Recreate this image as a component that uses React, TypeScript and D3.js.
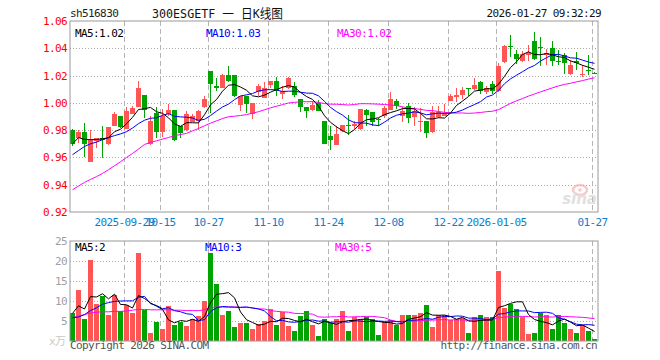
import React from "react"
import * as d3 from "d3"

// trading days shown, 2025-09-16 .. 2026-01-27
const dates = [
  "2025-09-16", "2025-09-17", "2025-09-18", "2025-09-19", "2025-09-22", "2025-09-23", "2025-09-24", "2025-09-25", "2025-09-26", "2025-09-29", "2025-09-30",
  "2025-10-09", "2025-10-10", "2025-10-13", "2025-10-14", "2025-10-15", "2025-10-16", "2025-10-17", "2025-10-20", "2025-10-21", "2025-10-22", "2025-10-23", "2025-10-24", "2025-10-27", "2025-10-28", "2025-10-29", "2025-10-30", "2025-10-31",
  "2025-11-03", "2025-11-04", "2025-11-05", "2025-11-06", "2025-11-07", "2025-11-10", "2025-11-11", "2025-11-12", "2025-11-13", "2025-11-14", "2025-11-17", "2025-11-18", "2025-11-19", "2025-11-20", "2025-11-21", "2025-11-24", "2025-11-25", "2025-11-26", "2025-11-27", "2025-11-28",
  "2025-12-01", "2025-12-02", "2025-12-03", "2025-12-04", "2025-12-05", "2025-12-08", "2025-12-09", "2025-12-10", "2025-12-11", "2025-12-12", "2025-12-15", "2025-12-16", "2025-12-17", "2025-12-18", "2025-12-19", "2025-12-22", "2025-12-23", "2025-12-24", "2025-12-25", "2025-12-26", "2025-12-29", "2025-12-30", "2025-12-31",
  "2026-01-05", "2026-01-06", "2026-01-07", "2026-01-08", "2026-01-09", "2026-01-12", "2026-01-13", "2026-01-14", "2026-01-15", "2026-01-16", "2026-01-19", "2026-01-20", "2026-01-21", "2026-01-22", "2026-01-23", "2026-01-26", "2026-01-27",
]

const opens = [
  0.9802, 0.9741, 0.9788, 0.9568, 0.9722, 0.9744, 0.9698, 0.9827, 0.9905, 0.9807, 0.9917,
  0.9971, 1.0059, 0.9698, 0.9922, 0.9783, 0.9917, 0.9946, 0.9827, 0.9802, 0.9863, 0.9868, 0.9971, 1.0234, 1.0124, 1.0112, 1.0205, 1.0205,
  0.9985, 1.0051, 0.9917, 1.008, 1.0034, 1.0132, 1.0161, 1.0063, 1.0111, 1.0122, 1.0025, 0.9969, 0.9951, 1.0002, 0.9864, 0.976, 0.9693, 0.9795, 0.984, 0.9829,
  0.9805, 0.9944, 0.9934, 0.9885, 0.9905, 0.9949, 1.0015, 0.9905, 0.9978, 0.9893, 0.9863, 0.9868, 0.9788, 0.9893, 0.9905, 1.0015, 1.0046, 1.0059, 1.0107, 1.0105, 1.0154, 1.0083, 1.0137,
  1.0088, 1.0299, 1.0414, 1.0355, 1.0304, 1.0348, 1.0451, 1.0407, 1.035, 1.0402, 1.0304, 1.0348, 1.0213, 1.0304, 1.0206, 1.0238, 1.0221,
]
const highs = [
  0.9805, 0.9802, 0.9851, 0.98, 0.9744, 0.9827, 0.9824, 0.9934, 0.9905, 0.9971, 0.9976,
  1.0161, 1.0059, 0.9902, 0.9966, 0.9954, 0.9995, 0.9946, 0.9827, 0.9941, 0.9917, 0.9949, 1.0051, 1.0234, 1.0185, 1.0215, 1.0271, 1.0205,
  1.0051, 1.0051, 1.0, 1.0141, 1.0156, 1.0161, 1.019, 1.0124, 1.0189, 1.0154, 1.0025, 0.9969, 1.001, 1.002, 0.9864, 0.9834, 0.9834, 0.984, 0.9913, 0.9869,
  0.9957, 0.9957, 0.9934, 0.989, 0.9978, 1.0076, 1.0027, 0.9966, 1.0002, 0.9966, 0.996, 0.9868, 0.9978, 0.9978, 0.999, 1.0063, 1.0112, 1.0117, 1.011, 1.0185, 1.0161, 1.0124, 1.0161,
  1.0295, 1.0426, 1.0495, 1.0385, 1.0377, 1.0426, 1.052, 1.0483, 1.0397, 1.0453, 1.0385, 1.0368, 1.0311, 1.0373, 1.0275, 1.0348, 1.0225,
]
const lows = [
  0.9686, 0.9705, 0.9605, 0.9563, 0.9668, 0.9593, 0.9693, 0.9827, 0.9815, 0.9807, 0.9917,
  0.9971, 0.9888, 0.9693, 0.9746, 0.9751, 0.9905, 0.9722, 0.9746, 0.9795, 0.9863, 0.9802, 0.9961, 0.9929, 1.0088, 1.0112, 1.0156, 1.0046,
  0.9937, 0.9929, 0.988, 1.0051, 1.0034, 1.0112, 1.0051, 1.0027, 1.01, 1.0042, 0.9932, 0.9888, 0.9937, 0.9941, 0.9695, 0.9658, 0.9688, 0.9783, 0.9761, 0.981,
  0.9798, 0.9834, 0.9827, 0.983, 0.9888, 0.9949, 0.9954, 0.9861, 0.9856, 0.9832, 0.979, 0.9739, 0.9776, 0.9888, 0.9905, 1.001, 1.0005, 1.0027, 1.0051, 1.0093, 1.0068, 1.0068, 1.0063,
  1.0076, 1.029, 1.0336, 1.0287, 1.03, 1.0304, 1.0311, 1.027, 1.028, 1.027, 1.0275, 1.0213, 1.0206, 1.0238, 1.0189, 1.0201, 1.0216,
]
const closes = [
  0.9698, 0.9788, 0.9698, 0.9727, 0.9744, 0.9727, 0.9824, 0.992, 0.982, 0.9941, 0.9963,
  1.0112, 0.9949, 0.9868, 0.9783, 0.9905, 0.9946, 0.9727, 0.9778, 0.9917, 0.9902, 0.9941, 1.0027, 1.0141, 1.0112, 1.0205, 1.0161, 1.0051,
  1.0051, 0.9995, 1.0, 1.0124, 1.0112, 1.0161, 1.0088, 1.0088, 1.0185, 1.0054, 0.9969, 0.9937, 0.9981, 0.9941, 0.9702, 0.9725, 0.9774, 0.9837, 0.9835, 0.9847,
  0.9952, 0.9913, 0.9863, 0.988, 0.9961, 1.0027, 0.9978, 0.9941, 0.9888, 0.9941, 0.9868, 0.9778, 0.9934, 0.9934, 0.9929, 1.0051, 1.0056, 1.0095, 1.01, 1.0129, 1.0085, 1.0112, 1.0085,
  1.0271, 1.0417, 1.041, 1.0319, 1.0355, 1.0368, 1.0319, 1.0402, 1.0365, 1.0304, 1.0299, 1.0294, 1.0275, 1.0294, 1.0213, 1.023, 1.0218,
]
// volume, 万
const volumes = [
  7.1, 12.8, 5.6, 20.2, 9.3, 11.2, 6.4, 11.4, 7.4, 8.9, 7.1,
  22.0, 7.7, 1.9, 4.8, 3.1, 8.8, 4.1, 4.8, 3.8, 5.6, 6.3, 10.1, 22.1, 14.3, 6.4, 7.6, 3.6,
  4.4, 4.6, 2.9, 4.2, 5.0, 7.9, 4.1, 7.3, 3.8, 2.6, 6.2, 7.4, 4.1, 1.2, 5.6, 4.4, 5.5, 7.4, 2.6, 5.9,
  5.6, 5.9, 5.6, 1.4, 4.8, 5.2, 4.1, 6.4, 6.6, 6.4, 6.9, 9.1, 3.4, 6.4, 6.6, 5.2, 5.6, 5.8, 1.9, 6.1, 6.4, 5.9, 5.9,
  17.6, 8.3, 9.3, 7.9, 5.9, 1.7, 2.1, 6.9, 6.4, 3.1, 6.4, 4.6, 3.1, 1.9, 4.0, 2.5, 0.4,
]

// moving-average values at the left edge (their windows start before the first day shown)
const ma5Head = [0.97, 0.9745, 0.9732, 0.973]
const ma10Head = [0.962, 0.965, 0.968, 0.97, 0.9712, 0.973, 0.9745, 0.976, 0.9772]
const ma30Head = [
  0.9363, 0.939, 0.9417, 0.9439, 0.9459, 0.9483, 0.951, 0.9539, 0.9568, 0.96, 0.9629, 0.9661, 0.9695, 0.971, 0.9722,
  0.9734, 0.9746, 0.9759, 0.9768, 0.9776, 0.9795, 0.9812, 0.9832, 0.9851, 0.9868, 0.9885, 0.9898, 0.9902, 0.9907,
]
const vma5Head = [6.9, 8.8, 8.0, 11.1]
const vma10Head = [5.8, 6.0, 6.6, 7.6, 8.3, 9.2, 9.6, 9.9, 10.0]
const vma30Head = [
  5.9, 6.2, 6.6, 7.0, 7.2, 7.3, 7.3, 7.4, 7.4, 7.5, 7.7, 7.9, 7.9, 7.8, 7.8,
  7.8, 7.8, 7.7, 7.7, 7.6, 7.6, 7.6, 7.8, 8.4, 8.5, 8.5, 8.5, 8.5, 8.4,
]

const tickDates = ["2025-09-29", "2025-10-15", "2025-10-27", "2025-11-10", "2025-11-24", "2025-12-08", "2025-12-22", "2026-01-05", "2026-01-27"]
const tickLabels = ["2025-09-29", "10-15", "10-27", "11-10", "11-24", "12-08", "12-22", "2026-01-05", "01-27"]
const priceTicks = [0.92, 0.94, 0.96, 0.98, 1.0, 1.02, 1.04, 1.06]
const volumeTicks = [5, 10, 15, 20, 25]

const width = 660
const height = 360
const left = 70
const right = 598
const priceTop = 21
const priceBottom = 212
const volTop = 241
const volBottom = 341

const UP = "#ff5555"
const DOWN = "#00a400"
const MONO = "'DejaVu Sans Mono', 'Liberation Mono', monospace"

const movingAverage = (values: number[], n: number, head: number[]) =>
  values.map((_, i) => (i < n - 1 ? head[i] : (d3.mean(values.slice(i - n + 1, i + 1)) as number)))

export default function App() {
  const x = d3.scaleBand<string>().domain(dates).range([left, right])
  const y = d3.scaleLinear().domain([0.92, 1.06]).range([priceBottom, priceTop])
  const yv = d3.scaleLinear().domain([0, 25]).range([volBottom, volTop])
  const cx = (d: string) => (x(d) as number) + 2.5

  const ma5 = movingAverage(closes, 5, ma5Head)
  const ma10 = movingAverage(closes, 10, ma10Head)
  const ma30 = movingAverage(closes, 30, ma30Head)
  const vma5 = movingAverage(volumes, 5, vma5Head)
  const vma10 = movingAverage(volumes, 10, vma10Head)
  const vma30 = movingAverage(volumes, 30, vma30Head)

  const priceLine = d3.line<number>().x((_, i) => cx(dates[i])).y((v) => y(v))
  const volLine = d3.line<number>().x((_, i) => cx(dates[i])).y((v) => yv(v))
  const last = (a: number[]) => a[a.length - 1]

  const txt = { fontFamily: MONO, fontSize: 11, letterSpacing: -0.6 }

  return (
    <svg width={width} height={height} style={{ position: "absolute", left: 0, top: 0, background: "#fff" }}>
      {/* header */}
      <text x={70} y={17} {...txt} fill="#222">sh516830</text>
      <text x={152} y={18} fontFamily={MONO + ", 'Noto Sans CJK SC'"} fontSize={13} textLength={131} lengthAdjust="spacingAndGlyphs" fill="#111">
        300ESGETF 一 日K线图
      </text>
      <text x={601} y={17} {...txt} textAnchor="end" fill="#111">2026-01-27 09:32:29</text>

      {/* price grid */}
      {priceTicks.slice(1, -1).map((t) => (
        <line key={t} x1={left} x2={right} y1={Math.round(y(t)) + 0.5} y2={Math.round(y(t)) + 0.5} stroke="#aaa" strokeDasharray="1,2" />
      ))}
      {tickDates.map((d) => (
        <line key={d} x1={(x(d) as number) + 0.5} x2={(x(d) as number) + 0.5} y1={priceTop} y2={priceBottom} stroke="#b4b4b4" strokeDasharray="5,3" />
      ))}
      {/* volume grid */}
      {volumeTicks.slice(0, -1).map((t) => (
        <line key={t} x1={left} x2={right} y1={yv(t) + 0.5} y2={yv(t) + 0.5} stroke="#aaa" strokeDasharray="1,2" />
      ))}
      {tickDates.map((d) => (
        <line key={"v" + d} x1={(x(d) as number) + 0.5} x2={(x(d) as number) + 0.5} y1={volTop} y2={volBottom} stroke="#b4b4b4" strokeDasharray="5,3" />
      ))}

      {/* sina watermark */}
      <g opacity={0.55}>
        <ellipse cx={580} cy={190} rx={7} ry={5} fill="none" stroke="#f2a0a0" strokeWidth={2.5} />
        <circle cx={580} cy={190} r={1.8} fill="#f2a0a0" />
        <text x={597} y={204} textAnchor="end" fontFamily="'DejaVu Sans'" fontStyle="italic" fontWeight="bold" fontSize={15} fill="#c8c8c8">sina</text>
      </g>

      {/* candles */}
      {dates.map((d, i) => {
        const up = closes[i] >= opens[i]
        const c = up ? UP : DOWN
        const top = y(Math.max(opens[i], closes[i]))
        const bot = y(Math.min(opens[i], closes[i]))
        return (
          <g key={d} shapeRendering="crispEdges">
            <line x1={cx(d)} x2={cx(d)} y1={y(highs[i])} y2={y(lows[i])} stroke={c} />
            <rect x={x(d)} y={top} width={5} height={Math.max(1, bot - top)} fill={c} />
          </g>
        )
      })}
      <path d={priceLine(ma30) as string} fill="none" stroke="#ff00ff" strokeWidth={1} />
      <path d={priceLine(ma10) as string} fill="none" stroke="#0000ff" strokeWidth={1} />
      <path d={priceLine(ma5) as string} fill="none" stroke="#000" strokeWidth={1} />

      {/* volume bars */}
      {dates.map((d, i) => (
        <rect key={"vb" + d} x={x(d)} y={yv(volumes[i])} width={5} height={volBottom - yv(volumes[i])}
          fill={closes[i] >= opens[i] ? UP : DOWN} shapeRendering="crispEdges" />
      ))}
      <path d={volLine(vma30) as string} fill="none" stroke="#ff00ff" strokeWidth={1} />
      <path d={volLine(vma10) as string} fill="none" stroke="#0000ff" strokeWidth={1} />
      <path d={volLine(vma5) as string} fill="none" stroke="#000" strokeWidth={1} />

      {/* frames */}
      <rect x={left} y={priceTop} width={right - left} height={priceBottom - priceTop} fill="none" stroke="#999" />
      <rect x={left} y={volTop} width={right - left} height={volBottom - volTop} fill="none" stroke="#999" />

      {/* price axis */}
      {priceTicks.map((t) => (
        <text key={t} x={67} y={y(t) + 4} {...txt} textAnchor="end" fill="#f00">{t.toFixed(2)}</text>
      ))}
      {tickDates.map((d, i) => (
        <text key={"l" + d} x={(x(d) as number) + 0.5} y={226} {...txt} textAnchor="middle" fill="#0a80cc">{tickLabels[i]}</text>
      ))}
      {/* volume axis */}
      {volumeTicks.map((t) => (
        <text key={t} x={67} y={yv(t) + 4} {...txt} textAnchor="end" fill="#a0a0a0">{t}</text>
      ))}
      <text x={49} y={345} fontFamily={MONO + ", 'Noto Sans CJK SC'"} fontSize={11} letterSpacing={-0.6} fill="#c8c8c8">x万</text>

      {/* legends */}
      <text x={75} y={37} {...txt} fill="#000">MA5:{last(ma5).toFixed(2)}</text>
      <text x={206} y={37} {...txt} fill="#0000ff">MA10:{last(ma10).toFixed(2)}</text>
      <text x={337} y={37} {...txt} fill="#ff00ff">MA30:{last(ma30).toFixed(2)}</text>
      <text x={75} y={251} {...txt} fill="#000">MA5:{Math.floor(last(vma5))}</text>
      <text x={205} y={251} {...txt} fill="#0000ff">MA10:{Math.floor(last(vma10))}</text>
      <text x={335} y={251} {...txt} fill="#ff00ff">MA30:{Math.floor(last(vma30))}</text>

      <text x={70} y={349} {...txt} fill="#555">Copyright 2026 SINA.COM</text>
      <text x={597} y={349} {...txt} textAnchor="end" fill="#555">http://finance.sina.com.cn</text>
    </svg>
  )
}
